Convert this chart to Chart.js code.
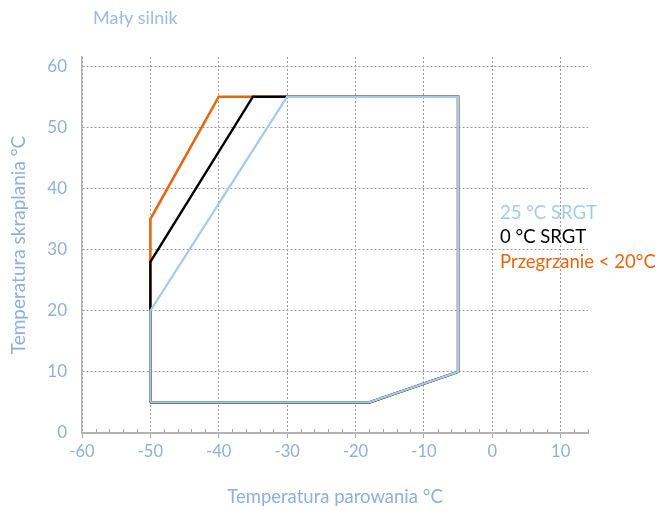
<!DOCTYPE html>
<html>
<head>
<meta charset="utf-8">
<script src="https://cdn.jsdelivr.net/npm/chart.js@4"></script>
<style>
  body { margin: 0; background: #fff; }
</style>
</head>
<body>
<canvas id="myChart" width="663" height="510"></canvas>
<script>
// dane wykresu
const chartTitle = "Mały silnik";
const xTitle = "Temperatura parowania °C";
const yTitle = "Temperatura skraplania °C";
const seriesNames = ["25 °C SRGT", "0 °C SRGT", "Przegrzanie < 20°C"];

const blueX = [-50, -50, -30, -5, -5, -18, -50];
const blueY = [5, 20, 55, 55, 10, 5, 5];
const blackX = [-50, -50, -35, -5, -5, -18, -50];
const blackY = [5, 28, 55, 55, 10, 5, 5];
const orangeX = [-50, -50, -40, -5, -5, -18, -50];
const orangeY = [5, 35, 55, 55, 10, 5, 5];

const yTicks = [0, 10, 20, 30, 40, 50, 60];

const textColor = "#8eb0db";
const gridColor = "#9c9c9c";
const fontName = "Lato";

function punkty(xs, ys) {
  return xs.map((x, i) => ({ x: x, y: ys[i] }));
}

// tytul, legenda i male kreski na osi X
const dodatki = {
  id: "dodatki",
  afterDraw(chart) {
    const ctx = chart.ctx;
    const a = chart.chartArea;
    const x = chart.scales.x;
    ctx.save();
    ctx.strokeStyle = "#a8a8a8";
    ctx.lineWidth = 1;
    x.ticks.forEach((t) => {
      if (t.value % 10 !== 0) {
        const px = Math.round(x.getPixelForValue(t.value)) + 0.5;
        ctx.beginPath();
        ctx.moveTo(px, a.bottom);
        ctx.lineTo(px, a.bottom - 4);
        ctx.stroke();
      }
    });
    ctx.textBaseline = "middle";
    ctx.textAlign = "left";
    ctx.font = "18px " + fontName;
    ctx.fillStyle = "#9dbbe0";
    ctx.fillText(chartTitle, a.left + 11, 18);
    ctx.font = "18.5px " + fontName;
    chart.data.datasets.forEach((d, i) => {
      ctx.fillStyle = d.borderColor;
      ctx.fillText(d.label, a.right - 88, a.top + 156 + i * 24.5);
    });
    ctx.restore();
  }
};

const config = {
  type: "scatter",
  data: {
    datasets: [
      { label: seriesNames[0], data: punkty(blueX, blueY), borderColor: "#a4cbef", borderWidth: 2.3 },
      { label: seriesNames[1], data: punkty(blackX, blackY), borderColor: "#000000", borderWidth: 2.4 },
      { label: seriesNames[2], data: punkty(orangeX, orangeY), borderColor: "#e8650f", borderWidth: 2.6 }
    ].map((d) => Object.assign(d, {
      showLine: true, pointRadius: 0, tension: 0, fill: false,
      borderJoinStyle: "miter", backgroundColor: d.borderColor
    }))
  },
  options: {
    responsive: false,
    animation: false,
    layout: { padding: { left: 0, right: 75, top: 57, bottom: 0 } },
    plugins: { legend: { display: false }, title: { display: false }, tooltip: { enabled: false } },
    scales: {
      x: {
        type: "linear",
        min: -60,
        max: 14,
        ticks: {
          stepSize: 2,
          autoSkip: false,
          maxRotation: 0,
          padding: 4,
          color: textColor,
          font: { family: fontName, size: 16.5 },
          callback: (v) => (v % 10 === 0 ? String(v) : "")
        },
        grid: {
          color: (c) => (c.tick && c.tick.value % 10 === 0 ? gridColor : "rgba(0,0,0,0)"),
          tickColor: (c) => (c.tick && c.tick.value % 10 === 0 ? "#a8a8a8" : "rgba(0,0,0,0)"),
          tickLength: 5,
          lineWidth: 1
        },
        border: { color: "#b3b3b3", width: 2, dash: [2, 2] },
        title: {
          display: true,
          text: xTitle,
          color: textColor,
          font: { family: fontName, size: 18.5 },
          padding: { top: 0, bottom: 2 }
        },
        afterFit: (s) => { s.height = 77; }
      },
      y: {
        type: "linear",
        min: 0,
        max: 61.5,
        afterBuildTicks: (s) => { s.ticks = yTicks.map((v) => ({ value: v })); },
        ticks: {
          padding: 15,
          color: textColor,
          font: { family: fontName, size: 17 }
        },
        grid: { color: gridColor, drawTicks: false, lineWidth: 1 },
        border: { color: "#b3b3b3", width: 1.5, dash: [2, 2] },
        title: {
          display: true,
          text: yTitle,
          color: textColor,
          font: { family: fontName, size: 19 },
          padding: { top: 7, bottom: 0 }
        },
        afterFit: (s) => { s.width = 82; }
      }
    }
  },
  plugins: [dodatki]
};

let myChart = new Chart(document.getElementById("myChart"), config);
</script>
</body>
</html>
